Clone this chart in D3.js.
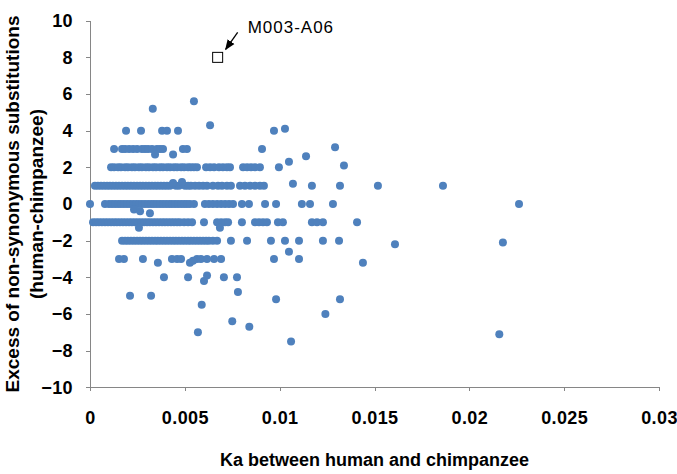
<!DOCTYPE html>
<html lang="en">
<head>
  <meta charset="UTF-8">
  <title>Excess of non-synonymous substitutions vs Ka</title>
  <script src="https://d3js.org/d3.v7.min.js"></script>
  <style>
    body { margin: 0; background: #fff; }
    svg { font-family: "Liberation Sans", Arial, sans-serif; }
    .axis path, .axis line { stroke: #868686; shape-rendering: crispEdges; }
    .axis text { font-size: 18px; font-weight: bold; fill: #000; letter-spacing: 0.4px; }
    .title { font-weight: bold; fill: #000; }
  </style>
</head>
<body>
<svg width="677" height="474"></svg>
<script>
// Ka of the genes that sit on each whole-number excess level
const kaExcess4 = [0.00190, 0.00269, 0.00380, 0.00406, 0.00464, 0.00970];
const kaExcess3 = [0.00127, 0.00169, 0.00185, 0.00206, 0.00227, 0.00248, 0.00274, 0.00290, 0.00306,
  0.00327, 0.00353, 0.00369, 0.00385, 0.00490, 0.00511, 0.00907];
const kaExcess2 = [0.00111, 0.00127, 0.00148, 0.00163, 0.00185, 0.00200, 0.00221, 0.00237, 0.00258,
  0.00274, 0.00295, 0.00311, 0.00332, 0.00348, 0.00369, 0.00385, 0.00406, 0.00422, 0.00443, 0.00459,
  0.00480, 0.00496, 0.00517, 0.00532, 0.00548, 0.00564, 0.00612, 0.00633, 0.00654, 0.00680, 0.00701,
  0.00722, 0.00738, 0.00807, 0.00828, 0.00849, 0.00870, 0.00896, 0.00996];
const kaExcess1 = [0.00026, 0.00042, 0.00058, 0.00074, 0.00090, 0.00105, 0.00121, 0.00137, 0.00153,
  0.00169, 0.00185, 0.00200, 0.00216, 0.00232, 0.00248, 0.00264, 0.00279, 0.00295, 0.00311, 0.00327,
  0.00343, 0.00358, 0.00374, 0.00390, 0.00406, 0.00422, 0.00453, 0.00469, 0.00501, 0.00517, 0.00532,
  0.00554, 0.00575, 0.00596, 0.00617, 0.00648, 0.00675, 0.00696, 0.00722, 0.00743, 0.00791, 0.00817,
  0.00844, 0.00870, 0.00896, 0.00917, 0.01170, 0.01318, 0.01518, 0.01861];
const kaExcess0 = [0, 0.00079, 0.00100, 0.00116, 0.00132, 0.00148, 0.00163, 0.00179, 0.00195, 0.00211,
  0.00227, 0.00243, 0.00258, 0.00274, 0.00290, 0.00306, 0.00322, 0.00337, 0.00353, 0.00369, 0.00385,
  0.00401, 0.00417, 0.00432, 0.00448, 0.00464, 0.00480, 0.00496, 0.00511, 0.00527, 0.00548, 0.00606,
  0.00627, 0.00648, 0.00670, 0.00691, 0.00712, 0.00733, 0.00754, 0.00801, 0.00838, 0.00923, 0.00981,
  0.01117, 0.01160, 0.01281, 0.02262];
const kaExcessM1 = [0.00016, 0.00032, 0.00047, 0.00063, 0.00079, 0.00095, 0.00111, 0.00127, 0.00142,
  0.00158, 0.00174, 0.00190, 0.00206, 0.00221, 0.00237, 0.00253, 0.00269, 0.00285, 0.00301, 0.00316,
  0.00332, 0.00348, 0.00364, 0.00380, 0.00395, 0.00411, 0.00427, 0.00443, 0.00459, 0.00474, 0.00496,
  0.00517, 0.00538, 0.00601, 0.00670, 0.00691, 0.00712, 0.00728, 0.00801, 0.00870, 0.00891, 0.00912,
  0.00933, 0.00991, 0.01017, 0.01170, 0.01197, 0.01228, 0.01408];
const kaExcessM2 = [0.00169, 0.00185, 0.00200, 0.00216, 0.00232, 0.00248, 0.00264, 0.00279, 0.00295,
  0.00311, 0.00327, 0.00343, 0.00358, 0.00374, 0.00390, 0.00406, 0.00422, 0.00438, 0.00453, 0.00469,
  0.00485, 0.00501, 0.00517, 0.00532, 0.00548, 0.00564, 0.00580, 0.00596, 0.00612, 0.00627, 0.00648,
  0.00670, 0.00743, 0.00828, 0.00954, 0.01028, 0.01102, 0.01228, 0.01313];
const kaExcessM3 = [0.00153, 0.00179, 0.00279, 0.00432, 0.00459, 0.00480, 0.00564, 0.00585, 0.00617,
  0.00654, 0.00691, 0.00970, 0.01102];
const kaExcessM4 = [0.00390, 0.00517, 0.00706, 0.00775];
const kaExcessM5 = [0.00211, 0.00322];
const levels = [4, 3, 2, 1, 0, -1, -2, -3, -4, -5];

// genes off the whole-number levels: [Ka, excess]
const offLevel = [
  [0.00331, 5.2], [0.00548, 5.6], [0.00633, 4.3], [0.01028, 4.1], [0.01292, 3.1],
  [0.00343, 2.7], [0.00438, 2.7], [0.01049, 2.3], [0.01139, 2.6], [0.01339, 2.1],
  [0.00438, 1.15], [0.00485, 1.2], [0.01070, 1.1],
  [0.00232, -0.3], [0.00264, -0.4], [0.00316, -0.5],
  [0.00258, -1.3], [0.00685, -1.3],
  [0.01608, -2.2], [0.02177, -2.1], [0.01049, -2.6],
  [0.00358, -3.2], [0.00527, -3.2], [0.00543, -3.1], [0.01439, -3.2],
  [0.00601, -4.2], [0.00617, -3.9],
  [0.00780, -4.8], [0.00981, -5.2], [0.01318, -5.2], [0.00589, -5.5], [0.01241, -6.0],
  [0.00750, -6.4], [0.00840, -6.7], [0.00569, -7.0], [0.01060, -7.5], [0.02158, -7.1]
];

// the highlighted gene
const outlier = { name: "M003-A06", ka: 0.00673, excess: 8 };

const xTicks = [0, 0.005, 0.01, 0.015, 0.02, 0.025, 0.03];
const yTicks = [-10, -8, -6, -4, -2, 0, 2, 4, 6, 8, 10];

const svg = d3.select("svg");
const margin = { left: 90, right: 18, top: 20.7, bottom: 86.7 };
const W = 677, H = 474;

const x = d3.scaleLinear().domain([0, 0.03]).range([margin.left, W - margin.right]);
const y = d3.scaleLinear().domain([-10, 10]).range([H - margin.bottom, margin.top]);

// axes
svg.append("g")
  .attr("class", "axis")
  .attr("transform", `translate(0,${y(-10)})`)
  .call(d3.axisBottom(x).tickValues(xTicks).tickSize(4).tickSizeOuter(0).tickPadding(20)
    .tickFormat(d => d === 0 ? "0" : String(+d.toFixed(3))));

svg.append("g")
  .attr("class", "axis")
  .attr("transform", `translate(${x(0)},0)`)
  .call(d3.axisLeft(y).tickValues(yTicks).tickSize(4).tickSizeOuter(0).tickPadding(13)
    .tickFormat(d3.format("d")));

// points
const rows = [kaExcess4, kaExcess3, kaExcess2, kaExcess1, kaExcess0,
  kaExcessM1, kaExcessM2, kaExcessM3, kaExcessM4, kaExcessM5];
const pts = [];
rows.forEach((r, i) => r.forEach(k => pts.push([k, levels[i]])));
offLevel.forEach(p => pts.push(p));

svg.append("g").selectAll("circle")
  .data(pts)
  .enter().append("circle")
  .attr("cx", d => x(d[0]))
  .attr("cy", d => y(d[1]))
  .attr("r", 4)
  .attr("fill", "#4f81bd");

// outlier square + arrow + label
const ox = x(outlier.ka), oy = y(outlier.excess);
svg.append("rect")
  .attr("x", ox - 5).attr("y", oy - 5)
  .attr("width", 10).attr("height", 10)
  .attr("fill", "#fff").attr("stroke", "#000").attr("stroke-width", 1);

svg.append("defs").append("marker")
  .attr("id", "arr").attr("viewBox", "0 0 10 10")
  .attr("refX", 9).attr("refY", 5)
  .attr("markerWidth", 8).attr("markerHeight", 8)
  .attr("orient", "auto")
  .append("path").attr("d", "M0,1 L10,5 L0,9 z").attr("fill", "#000");

svg.append("line")
  .attr("x1", ox + 20).attr("y1", oy - 25)
  .attr("x2", ox + 8).attr("y2", oy - 8)
  .attr("stroke", "#000").attr("stroke-width", 1.3)
  .attr("marker-end", "url(#arr)");

svg.append("text")
  .attr("x", ox + 30).attr("y", oy - 24)
  .attr("font-size", "17px")
  .attr("letter-spacing", "1px")
  .text(outlier.name);

// axis titles
svg.append("text")
  .attr("class", "title")
  .attr("font-size", "18px")
  .attr("x", (x(0) + x(0.03)) / 2)
  .attr("y", 466)
  .attr("text-anchor", "middle")
  .text("Ka between human and chimpanzee");

const yt = svg.append("text")
  .attr("class", "title")
  .attr("font-size", "19px")
  .attr("text-anchor", "middle")
  .attr("transform", `translate(19,${y(0)}) rotate(-90)`);
yt.append("tspan").attr("x", 0).attr("y", 0).text("Excess of non-synonymous substitutions");
yt.append("tspan").attr("x", 0).attr("y", 24).text("(human-chimpanzee)");
</script>
</body>
</html>
